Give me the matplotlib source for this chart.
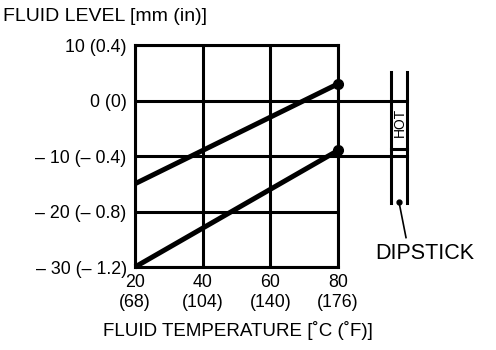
import matplotlib
matplotlib.use("Agg")
import matplotlib.pyplot as plt

plt.rcParams['font.family'] = ['Liberation Sans', 'DejaVu Sans']

# Fluid temperature (°C) and fluid level (mm) for the two limit lines
temp_c = [20, 80]
upper_level = [-15, 3]
lower_level = [-30, -9]

x_ticks = [20, 40, 60, 80]
x_tick_labels = ["20\n(68)", "40\n(104)", "60\n(140)", "80\n(176)"]
y_ticks = [10, 0, -10, -20, -30]
y_tick_labels = ["10 (0.4)", "0 (0)", "\u2013 10 (\u2013 0.4)",
                 "\u2013 20 (\u2013 0.8)", "\u2013 30 (\u2013 1.2)"]

# Dipstick marks (levels carried across to the stick)
hot_top, hot_bottom = 0, -10

fig = plt.figure(figsize=(4.96, 3.5), dpi=100)
ax = fig.add_axes([135/496, 1-267/350, 203/496, 222/350])
ax.set_xlim(20, 80)
ax.set_ylim(-30, 10)

lw_grid = 2.2
for s in ax.spines.values():
    s.set_linewidth(lw_grid)
ax.set_xticks(x_ticks)
ax.set_xticklabels(x_tick_labels, fontsize=12.8, linespacing=1.25)
ax.set_yticks(y_ticks)
ax.set_yticklabels(y_tick_labels, fontsize=12.8)
ax.tick_params(length=0, pad=6)
ax.tick_params(axis='x', pad=5)
ax.grid(True, color='black', linewidth=lw_grid)
ax.set_axisbelow(True)

ax.plot(temp_c, upper_level, color='black', linewidth=3.6, solid_capstyle='butt', clip_on=False)
ax.plot(temp_c, lower_level, color='black', linewidth=3.6, solid_capstyle='butt', clip_on=False)
ax.plot([temp_c[-1]], [upper_level[-1]], 'o', color='black', markersize=7, clip_on=False)
ax.plot([temp_c[-1]], [lower_level[-1]], 'o', color='black', markersize=7, clip_on=False)

# Dipstick drawn to the right of the plot
stick_left, stick_right = 95.7, 100.4
stick_top, stick_bottom = 5.1, -18.5
for lvl in (hot_top, hot_bottom):
    ax.plot([80, stick_right], [lvl, lvl], color='black', linewidth=lw_grid, clip_on=False)
for sx in (stick_left, stick_right):
    ax.plot([sx, sx], [stick_top, stick_bottom], color='black', linewidth=lw_grid, clip_on=False)
ax.plot([stick_left, stick_right], [-8.8, -8.8], color='black', linewidth=lw_grid, clip_on=False)
ax.text((stick_left + stick_right) / 2 + 0.1, (hot_top + hot_bottom) / 2 + 1, "HOT",
        rotation=90, ha='center', va='center', fontsize=10, clip_on=False)

# Leader to the dipstick label
ax.plot([98.0, 100.1], [-18.2, -24.7], color='black', linewidth=1.2, clip_on=False)
ax.plot([98.0], [-18.2], 'o', color='black', markersize=3.5, clip_on=False)
ax.text(105.7, -27.6, "DIPSTICK", ha='center', va='center', fontsize=15.5, clip_on=False)

fig.text(3/496, 1-16.5/350, "FLUID LEVEL [mm (in)]", ha='left', va='center', fontsize=14)
fig.text(238/496, 1-330/350, "FLUID TEMPERATURE [\u02daC (\u02daF)]", ha='center', va='center', fontsize=13.5)

fig.savefig("out.png", dpi=100)
